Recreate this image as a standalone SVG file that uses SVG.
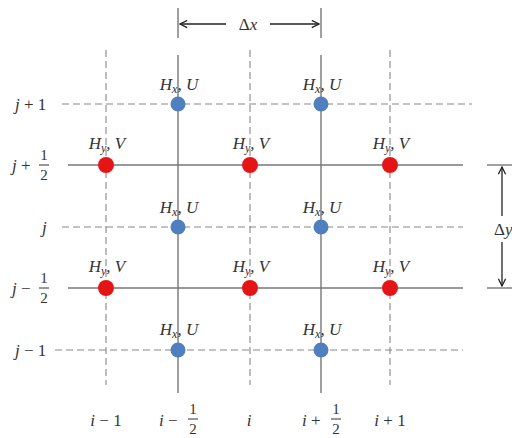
<svg xmlns="http://www.w3.org/2000/svg" width="512" height="438" viewBox="0 0 512 438">
<style>
.t{font-family:"Liberation Serif","DejaVu Serif",serif;font-style:italic;font-size:17px;fill:#333}
.n{font-family:"Liberation Serif","DejaVu Serif",serif;font-style:normal;font-size:17px;fill:#333}
.f{font-family:"Liberation Serif","DejaVu Serif",serif;font-style:normal;font-size:15px;fill:#333}
.s{stroke:#777;stroke-width:1.4;fill:none}
.d{stroke:#888;stroke-width:1.1;stroke-dasharray:7 4;fill:none}
.a{stroke:#222;stroke-width:1.3;fill:none}
.bl{fill:#4f7fbf}
.rd{fill:#e51515}
</style>
<defs>
<marker id="ah" viewBox="0 0 10 10" refX="9" refY="5" markerWidth="9" markerHeight="9" orient="auto-start-reverse" markerUnits="userSpaceOnUse">
<path d="M1,1 L9,5 L1,9" fill="none" stroke="#222" stroke-width="1.4"/>
</marker>
</defs>
<g id="connectors">
<line class="d" x1="106" y1="50" x2="106" y2="385"/>
<line class="d" x1="250" y1="50" x2="250" y2="385"/>
<line class="d" x1="390" y1="50" x2="390" y2="385"/>
<line class="s" x1="178" y1="55" x2="178" y2="393"/>
<line class="s" x1="321" y1="55" x2="321" y2="393"/>
<line class="s" x1="178" y1="8" x2="178" y2="38"/>
<line class="s" x1="321" y1="8" x2="321" y2="38"/>
<line class="d" x1="62" y1="104" x2="472" y2="104"/>
<line class="s" x1="68" y1="165" x2="463" y2="165"/>
<line class="d" x1="62" y1="227" x2="463" y2="227"/>
<line class="s" x1="68" y1="288" x2="463" y2="288"/>
<line class="d" x1="55" y1="350" x2="463" y2="350"/>
<line class="a" x1="226" y1="24" x2="180" y2="24" marker-end="url(#ah)"/>
<line class="a" x1="270" y1="24" x2="319" y2="24" marker-end="url(#ah)"/>
<line class="s" x1="487" y1="165" x2="512" y2="165"/>
<line class="s" x1="487" y1="288" x2="512" y2="288"/>
<line class="a" x1="502" y1="216" x2="502" y2="167" marker-end="url(#ah)"/>
<line class="a" x1="502" y1="242" x2="502" y2="286" marker-end="url(#ah)"/>
</g>
<g id="dim-labels">
<text class="n" x="248" y="30" text-anchor="middle">Δ<tspan class="t">x</tspan></text>
<text class="n" x="494" y="235">Δ<tspan class="t">y</tspan></text>
</g>
<g id="row-labels">
<text class="t" x="15" y="110">j <tspan class="n">+ 1</tspan></text>
<text class="t" x="12" y="171">j <tspan class="n">+</tspan></text>
<text class="f" x="44" y="160" text-anchor="middle">1</text>
<line x1="39" y1="165" x2="49" y2="165" stroke="#333" stroke-width="1"/>
<text class="f" x="44" y="180" text-anchor="middle">2</text>
<text class="t" x="42" y="233">j</text>
<text class="t" x="12" y="294">j <tspan class="n">−</tspan></text>
<text class="f" x="44" y="283" text-anchor="middle">1</text>
<line x1="39" y1="288" x2="49" y2="288" stroke="#333" stroke-width="1"/>
<text class="f" x="44" y="303" text-anchor="middle">2</text>
<text class="t" x="15" y="356">j <tspan class="n">− 1</tspan></text>
</g>
<g id="col-labels">
<text class="t" x="106" y="426" text-anchor="middle">i <tspan class="n">− 1</tspan></text>
<text class="t" x="159" y="426">i <tspan class="n">−</tspan></text>
<text class="f" x="193" y="414" text-anchor="middle">1</text>
<line x1="188" y1="419" x2="198" y2="419" stroke="#333" stroke-width="1"/>
<text class="f" x="193" y="434" text-anchor="middle">2</text>
<text class="t" x="249" y="426" text-anchor="middle">i</text>
<text class="t" x="302" y="426">i <tspan class="n">+</tspan></text>
<text class="f" x="336" y="414" text-anchor="middle">1</text>
<line x1="331" y1="419" x2="341" y2="419" stroke="#333" stroke-width="1"/>
<text class="f" x="336" y="434" text-anchor="middle">2</text>
<text class="t" x="390" y="426" text-anchor="middle">i <tspan class="n">+ 1</tspan></text>
</g>
<g id="u-1"><circle class="bl" cx="178" cy="104" r="7.5"/><text class="t" x="179" y="90" text-anchor="middle">H<tspan font-size="12" dy="3">x</tspan><tspan dy="-3">, U</tspan></text></g>
<g id="u-2"><circle class="bl" cx="321" cy="104" r="7.5"/><text class="t" x="322" y="90" text-anchor="middle">H<tspan font-size="12" dy="3">x</tspan><tspan dy="-3">, U</tspan></text></g>
<g id="u-3"><circle class="bl" cx="178" cy="227" r="7.5"/><text class="t" x="179" y="213" text-anchor="middle">H<tspan font-size="12" dy="3">x</tspan><tspan dy="-3">, U</tspan></text></g>
<g id="u-4"><circle class="bl" cx="321" cy="227" r="7.5"/><text class="t" x="322" y="213" text-anchor="middle">H<tspan font-size="12" dy="3">x</tspan><tspan dy="-3">, U</tspan></text></g>
<g id="u-5"><circle class="bl" cx="178" cy="350" r="7.5"/><text class="t" x="179" y="335" text-anchor="middle">H<tspan font-size="12" dy="3">x</tspan><tspan dy="-3">, U</tspan></text></g>
<g id="u-6"><circle class="bl" cx="321" cy="350" r="7.5"/><text class="t" x="322" y="335" text-anchor="middle">H<tspan font-size="12" dy="3">x</tspan><tspan dy="-3">, U</tspan></text></g>
<g id="v-1"><circle class="rd" cx="106" cy="165" r="8"/><text class="t" x="107" y="149" text-anchor="middle">H<tspan font-size="12" dy="3">y</tspan><tspan dy="-3">, V</tspan></text></g>
<g id="v-2"><circle class="rd" cx="250" cy="165" r="8"/><text class="t" x="251" y="149" text-anchor="middle">H<tspan font-size="12" dy="3">y</tspan><tspan dy="-3">, V</tspan></text></g>
<g id="v-3"><circle class="rd" cx="390" cy="165" r="8"/><text class="t" x="391" y="149" text-anchor="middle">H<tspan font-size="12" dy="3">y</tspan><tspan dy="-3">, V</tspan></text></g>
<g id="v-4"><circle class="rd" cx="106" cy="288" r="8"/><text class="t" x="107" y="272" text-anchor="middle">H<tspan font-size="12" dy="3">y</tspan><tspan dy="-3">, V</tspan></text></g>
<g id="v-5"><circle class="rd" cx="250" cy="288" r="8"/><text class="t" x="251" y="272" text-anchor="middle">H<tspan font-size="12" dy="3">y</tspan><tspan dy="-3">, V</tspan></text></g>
<g id="v-6"><circle class="rd" cx="390" cy="288" r="8"/><text class="t" x="391" y="272" text-anchor="middle">H<tspan font-size="12" dy="3">y</tspan><tspan dy="-3">, V</tspan></text></g>
</svg>
